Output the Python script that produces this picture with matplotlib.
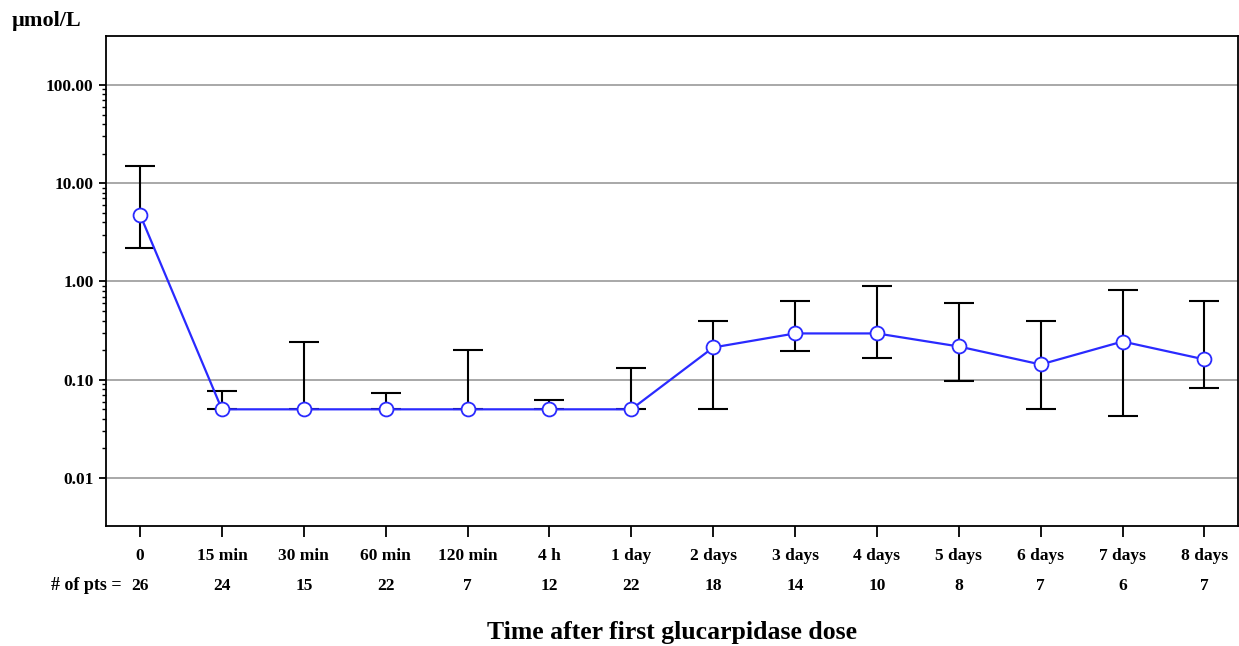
import matplotlib
matplotlib.use("Agg")
import matplotlib.pyplot as plt
import matplotlib.ticker as mticker
import matplotlib.transforms as mtransforms
import numpy as np

# data
time_labels = ["0", "15 min", "30 min", "60 min", "120 min", "4 h", "1 day",
               "2 days", "3 days", "4 days", "5 days", "6 days", "7 days", "8 days"]
n_pts = [26, 24, 15, 22, 7, 12, 22, 18, 14, 10, 8, 7, 6, 7]
median = [4.8, 0.05, 0.05, 0.05, 0.05, 0.05, 0.05,
          0.213, 0.296, 0.296, 0.218, 0.143, 0.245, 0.161]
low = [2.17, 0.05, 0.05, 0.05, 0.05, 0.05, 0.05,
       0.05, 0.194, 0.165, 0.098, 0.05, 0.043, 0.083]
high = [14.8, 0.076, 0.24, 0.073, 0.203, 0.062, 0.133,
        0.40, 0.63, 0.91, 0.61, 0.40, 0.81, 0.64]
y_ticks = [0.01, 0.1, 1, 10, 100]

plt.rcParams['font.family'] = ['Liberation Serif', 'DejaVu Serif']
plt.rcParams['font.weight'] = 'bold'

fig = plt.figure(figsize=(12.39, 6.46), dpi=100)
ax = fig.add_axes([0.0856, 0.1858, 0.9136, 0.7585])

x = np.arange(len(time_labels))
med = np.array(median)
yerr = [med - np.array(low), np.array(high) - med]

ax.errorbar(x, med, yerr=yerr, fmt='none', ecolor='black', elinewidth=1.5,
            capsize=11, capthick=1.5, zorder=2)
ax.plot(x, med, color='#2a2aff', lw=1.6, marker='o', markersize=10,
        markerfacecolor='white', markeredgecolor='#2a2aff', markeredgewidth=1.3,
        zorder=3)

ax.set_yscale('log')
ax.set_ylim(0.00325, 315)
ax.set_xlim(-0.415, 13.41)

# minor ticks only between the labelled decades
minor = [m * d for d in y_ticks[:-1] for m in range(2, 10)]
ax.yaxis.set_major_locator(mticker.FixedLocator(y_ticks))
ax.yaxis.set_major_formatter(mticker.FuncFormatter(lambda v, p: f"{v:.2f}"))
ax.yaxis.set_minor_locator(mticker.FixedLocator(minor))
ax.yaxis.set_minor_formatter(mticker.NullFormatter())
ax.grid(axis='y', which='major', color='#999999', lw=1.2, zorder=0)
ax.set_axisbelow(True)

ax.tick_params(axis='y', which='major', length=5, width=1.3, labelsize=12.5, pad=4)
ax.tick_params(axis='y', which='minor', length=3, width=1.0)
ax.set_xticks(x)
ax.set_xticklabels(time_labels)
ax.tick_params(axis='x', length=8, width=1.3, labelsize=12.5, pad=8)
for lab in ax.get_xticklabels() + ax.get_yticklabels():
    lab.set_fontweight('bold')

for s in ax.spines.values():
    s.set_linewidth(1.3)

# counts row under the tick labels
trans = mtransforms.blended_transform_factory(ax.transData, fig.transFigure)
for xi, n in zip(x, n_pts):
    ax.text(xi, 1 - 586 / 646, str(n), transform=trans, ha='center', va='center',
            fontsize=12.5, fontweight='bold')
fig.text(122 / 1239, 1 - 586 / 646, "# of pts =", ha='right', va='center',
         fontsize=13, fontweight='bold')

fig.text(12 / 1239, 1 - 21 / 646, "\u00b5mol/L", ha='left', va='center',
         fontsize=16, fontweight='bold')
fig.text(672 / 1239, 1 - 633 / 646, "Time after first glucarpidase dose",
         ha='center', va='center', fontsize=18.5, fontweight='bold')

fig.savefig("out.png", dpi=100)
